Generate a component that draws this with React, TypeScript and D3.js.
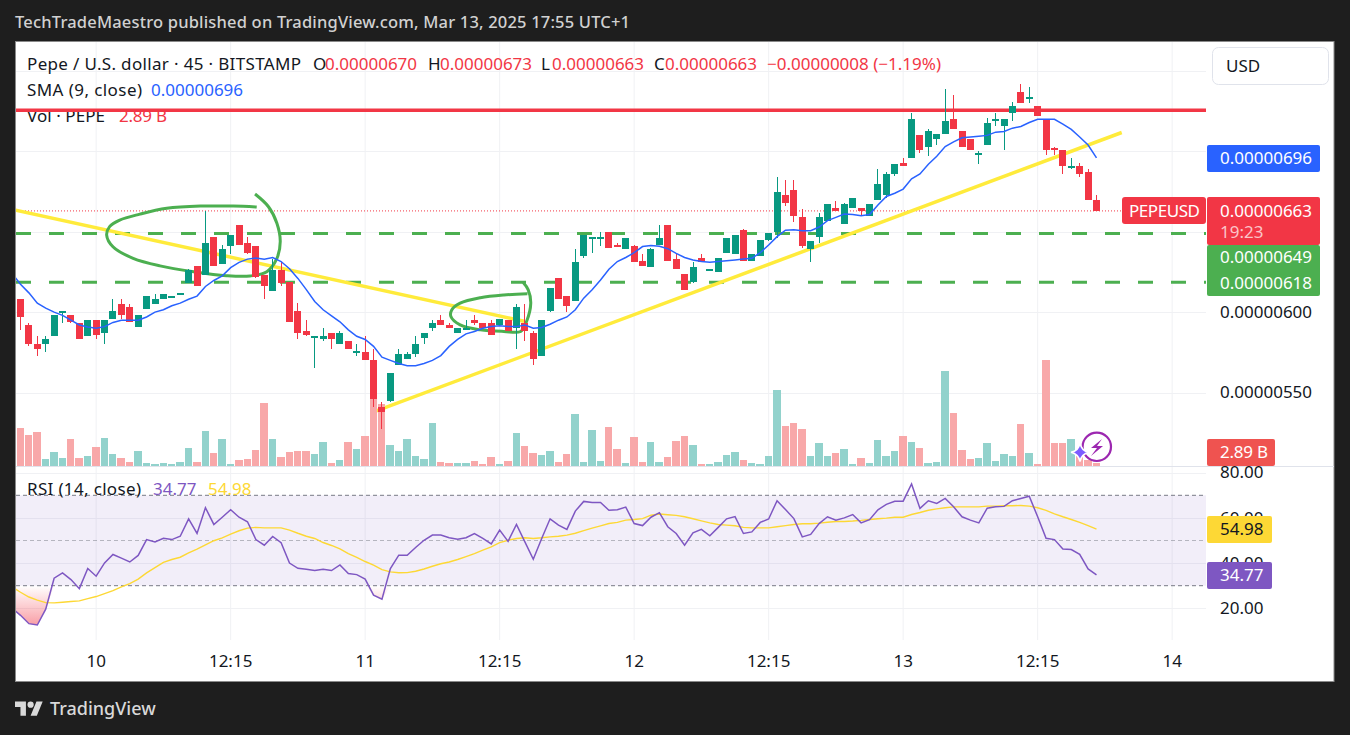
import * as React from 'react'
import * as d3 from 'd3'

// prices are in units of 1e-8 USD
const opens = [608,592,580,580,585,600,598,593,585,595,587,596,605,603,591,602,605,608,610,612,618,629,623,647,630,641,654,643,641,623,613,626,619,601,588,585,583,587,580,582,576,575,570,541,545,567,571,574,584,590,595,592,587,590,595,593,593,592,595,590,593,587,573,601,621,610,607,635,646,647,650,642,639,641,632,628,642,654,633,624,619,634,626,625,637,636,651,632,635,645,650,673,676,659,639,647,657,665,655,665,665,660,670,673,686,693,696,710,703,708,711,720,713,708,699,704,720,716,724,737,734,728,720,702,701,690,691,687,670]
const closes = [597,580,577,583,598,601,594,583,595,586,595,601,598,594,598,610,608,611,610,612,626,616,643,629,639,648,642,637,622,616,626,618,594,587,586,585,585,583,587,577,576,570,546,538,562,574,574,580,587,593,592,590,590,590,593,590,586,596,588,603,588,571,595,615,608,604,631,648,647,647,640,641,646,631,629,639,646,632,627,614,628,631,627,634,646,648,632,636,645,649,675,668,660,641,644,659,667,663,667,671,663,667,680,686,692,691,720,701,713,711,719,714,703,701,699,718,720,720,728,730,734,722,701,701,691,691,686,670,663]
const highs = [608,593,585,585,598,601,598,593,595,595,595,608,608,605,598,610,611,611,610,612,627,629,663,647,642,648,654,647,641,623,633,631,619,606,595,585,590,587,588,582,580,585,577,544,562,577,575,585,587,595,598,593,590,595,598,593,595,596,595,605,605,588,595,615,621,610,639,648,647,650,650,643,646,642,636,640,654,654,636,624,631,636,627,634,646,648,652,636,645,649,684,682,682,664,644,662,667,669,668,671,665,667,689,687,692,696,724,710,714,711,739,735,713,708,700,721,724,720,731,742,740,728,720,703,701,696,693,689,673]
const lows = [589,579,573,575,585,593,593,583,585,583,580,596,596,594,591,602,605,608,610,612,618,616,623,629,630,636,642,636,621,608,613,616,594,583,585,565,582,577,580,577,573,570,541,527,544,567,571,572,580,588,592,590,587,590,592,590,586,592,588,577,582,567,573,600,608,600,607,634,637,641,640,641,639,631,629,628,642,632,627,614,618,631,626,625,637,636,632,632,635,644,646,666,656,640,631,643,657,663,655,665,660,660,670,671,685,691,696,699,697,704,711,714,703,701,692,704,716,701,719,730,730,722,698,698,686,689,684,670,663]
// volume in billions, last value is the legend's 2.89 B
const volumes = [38,31,34,7,14,8,27,8,10,19,28,12,8,4,15,3,2,3,2,4,18,4,35,13,27,2,6,7,16,63,27,9,14,15,15,12,24,3,6,24,17,30,67,62,21,15,27,10,7,43,4,3,3,3,5,2,9,2,5,33,20,13,11,15,4,12,52,4,36,5,39,17,3,29,4,24,4,9,25,30,21,2,2,4,11,14,6,3,2,10,76,40,43,37,10,23,10,13,17,2,8,3,26,10,15,30,24,18,3,4,95,53,16,7,8,23,5,12,10,42,13,2,106,23,23,27,10,6,2.89]
const smaBefore = 624
const smaValues = [617.4,612,605.6,602.5,600,598,595,592,590.7,590,591,593.6,595,595,595,597,600,601.5,604,605.6,608,610,616,619.7,622.6,627.7,631,633,633.7,633,634,631.5,627,621,614,606.6,601.5,597.7,594,589,585,583,578.7,572,570,568,566.7,566.7,568,570,573,578.7,583,586.5,588,590,591,591.5,591,591,592,590,590.5,592.5,595,597,601.5,608.7,614,620,626.7,631.5,634,637,640.8,641.4,641,639.5,636.6,634,632.5,631.5,631,631.5,632,632.5,633,633.5,637,641.8,647,651,651.3,650.7,650.7,653,657,659,661,660.7,660,660.7,666.7,672,674,676.6,683,686,692,697,703,706,708.5,709,709.5,710,712,712.4,714.5,715.5,718,720,720,720,717,713.7,709,704,696]
const rsiBefore = 20
const rsiValues = [16.9,13.2,12.6,19.6,33.3,35.7,32.7,28.7,37.6,34.2,40.1,43.8,42.2,40.5,43.4,50.4,49.4,51,50.4,51.9,59.6,53.1,64.5,57.1,60.3,63.6,60.3,58.3,50.4,47.9,51.8,49,40,37.7,37.3,36.7,37.3,36.7,39.2,35.4,34.9,32.9,25.8,24,37.6,43.5,43.5,46.9,50.1,52.4,52.4,51.2,50.6,51.2,53.1,50.9,48.5,54.6,49.6,57.1,49.4,41.7,50.9,59.6,56.8,54.9,63,67.3,66.8,66.8,63.4,63.6,64.8,57.5,56.6,60.3,62.3,56.1,53.1,47.9,53.4,54.9,52.1,55.8,59.6,60.6,53.1,53.8,58,59.5,67.6,63.7,59.7,51.6,52.7,57.5,60.5,59,60,61.5,57.8,59.2,63.6,66,67.4,67.4,75,64.2,67.6,66.4,68.6,64.9,60.5,59,57.8,64.3,64.9,65.1,67.6,68.6,69.6,60.5,51,50.4,46.2,46,43.9,37.4,34.77]
const rsiMaBefore = 29.5
const rsiMaValues = [27.1,25,23.6,22.5,22.4,22.7,23,23.3,24.3,25.2,26.5,27.8,29.5,30.9,32.9,35.7,38,40.3,41.6,42.6,44.5,46.2,48.1,49.9,51.2,52.8,54.3,55.5,55.8,55.6,55.6,55.6,54.6,53.2,51.9,50.9,49.1,47.8,46.3,44.2,42.5,40.7,39.1,37.1,36.1,35.7,35.8,36.4,37.4,38.6,39.7,40.5,41.6,42.9,44.2,45.7,47.2,49.1,50.1,50.9,51.2,50.9,51.2,51.6,51.9,52.4,53.2,54.4,55.5,56.5,57.5,58,59,59.3,59.7,61.2,61.7,61.4,61.1,60.5,59.6,58.7,57.8,57.1,56.8,56.5,55.8,55.6,55.6,55.6,56.1,56.6,57.1,57.4,57.4,57.7,58.1,58.4,58.4,58.6,58.9,59.3,59.6,59.9,60.3,60.3,61.5,62.4,63.4,64,64.5,64.9,64.9,64.9,64.9,65.2,65.2,65.4,65.4,65.5,65.2,64.5,63.3,61.8,60.5,59.3,58,56.6,55]

const timeTickIndex = [9,25,41,57,73,89,105,121,137]
const timeTickLabels = ['10','12:15','11','12:15','12','12:15','13','12:15','14']
const priceGridTicks = [550,600,650,700,750]
const priceLabelTicks = [550,600]
const rsiTicks = [20,40,60,80]

// drawings, [bar index, price]
const resistance = 725.6
const supports = [649,618.6]
const trendDown: [number, number][] = [[-0.6,663.5],[59.9,594.3]]
const trendUp: [number, number][] = [[41.7,537.3],[131,711.8]]
const circleOne: [number, number][] = [[28.1,665.4],[25.3,666],[21.4,666],[17.4,664.6],[14.2,661],[11.8,657.3],[10.6,653.2],[10.25,648],[11,640.7],[13.4,633.5],[16.6,628.8],[20.6,625.2],[24.5,622.7],[27.3,622.5],[29.3,625.2],[30.5,633.5],[30.9,643.9],[30.5,655.3],[29.5,665.6],[27.9,673.5]]
const circleTwo: [number, number][] = [[60.3,611.4],[57.5,610.7],[54.7,609],[52.3,605.6],[51.3,601.4],[51.2,597.3],[52.3,592.1],[54.7,589],[57.5,588],[59.5,588],[60.2,594.2],[60.7,605.6],[60.4,613.9],[59.8,618.4]]

const GREEN = '#089981'
const RED = '#F23645'
const FONT = '"Noto Sans", sans-serif'
const PANE_LEFT = 16
const AXIS_LEFT = 1206

const x = d3.scaleLinear().domain([0, 128]).range([20.5, 1096.5])
const y = d3.scaleLinear().domain([550, 650]).range([392.5, 231.8])
const yVol = d3.scaleLinear().domain([0, 100]).range([466, 366])
const yRsi = d3.scaleLinear().domain([20, 80]).range([608.3, 472.7])

const col = (i: number) => Math.floor(x(i))
const withIndex = (first: number, values: number[]): [number, number][] =>
  [first, ...values].map((v, i) => [i - 1, v])

const priceLine = d3.line<[number, number]>().x(d => x(d[0])).y(d => y(d[1]))
const sketchLine = d3.line<[number, number]>().x(d => x(d[0])).y(d => y(d[1])).curve(d3.curveCatmullRom)
const rsiLine = d3.line<[number, number]>().x(d => x(d[0])).y(d => yRsi(d[1]))
const oversoldArea = d3.area<[number, number]>()
  .x(d => x(d[0]))
  .y0(yRsi(30))
  .y1(d => yRsi(Math.min(d[1], 30)))

const Txt = ({ x, y, fill = '#131722', size = 17, anchor = 'start', weight = 400, w, children }: any) => (
  <text x={x} y={y - 0.8} fill={fill} fontSize={size} textAnchor={anchor} fontWeight={weight} textLength={w} lengthAdjust={w ? 'spacing' : undefined} dominantBaseline="central" fontFamily={FONT}>{children}</text>
)

const App = () => {
  const rsiPoints = withIndex(rsiBefore, rsiValues)
  return (
    <svg width={1350} height={735} style={{ position: 'fixed', left: 0, top: 0, background: '#1e1e1e' }}>
      <defs>
        <clipPath id="main"><rect x={PANE_LEFT} y={41} width={AXIS_LEFT - PANE_LEFT} height={425} /></clipPath>
        <clipPath id="rsi"><rect x={PANE_LEFT} y={467} width={AXIS_LEFT - PANE_LEFT} height={173} /></clipPath>
        <linearGradient id="oversold" gradientUnits="userSpaceOnUse" x1={0} x2={0} y1={yRsi(30)} y2={yRsi(10)}>
          <stop offset="0" stopColor={RED} stopOpacity={0} />
          <stop offset="1" stopColor={RED} stopOpacity={0.55} />
        </linearGradient>
      </defs>

      <Txt x={15} y={22.5} fill="#d1d1d1" size={16.5} weight={500} w={615}>TechTradeMaestro published on TradingView.com, Mar 13, 2025 17:55 UTC+1</Txt>
      <rect x={15.5} y={41.5} width={1318.5} height={640} fill="#fff" stroke="#8a8a8a" />

      {/* grid */}
      {timeTickIndex.map(i => (
        <line key={i} x1={x(i)} x2={x(i)} y1={42} y2={640} stroke="#f0f1f4" />
      ))}
      {priceGridTicks.map(t => (
        <line key={t} x1={PANE_LEFT} x2={AXIS_LEFT} y1={Math.round(y(t)) + 0.5} y2={Math.round(y(t)) + 0.5} stroke="#f0f1f4" />
      ))}
      {rsiTicks.map(t => (
        <line key={t} x1={PANE_LEFT} x2={AXIS_LEFT} y1={Math.round(yRsi(t)) + 0.5} y2={Math.round(yRsi(t)) + 0.5} stroke="#f0f1f4" />
      ))}

      {/* legend, the drawings go over it */}
      <Txt x={27} y={64} w={274}>Pepe / U.S. dollar · 45 · BITSTAMP</Txt>
      <Txt x={313} y={64}>O</Txt>
      <Txt x={325} y={64} fill={RED}>0.00000670</Txt>
      <Txt x={428} y={64}>H</Txt>
      <Txt x={440} y={64} fill={RED}>0.00000673</Txt>
      <Txt x={541} y={64}>L</Txt>
      <Txt x={552} y={64} fill={RED}>0.00000663</Txt>
      <Txt x={654} y={64}>C</Txt>
      <Txt x={665} y={64} fill={RED}>0.00000663</Txt>
      <Txt x={767} y={64} fill={RED} w={174}>−0.00000008 (−1.19%)</Txt>
      <Txt x={27} y={90} w={115}>SMA (9, close)</Txt>
      <Txt x={151} y={90} fill="#2962FF">0.00000696</Txt>
      <Txt x={27} y={116} w={78}>Vol · PEPE</Txt>
      <Txt x={119} y={116} fill={RED} w={48}>2.89 B</Txt>

      <g clipPath="url(#main)">
        {/* last price */}
        <line x1={PANE_LEFT} x2={1122} y1={y(663)} y2={y(663)} stroke={RED} strokeDasharray="1 2" />
        {/* drawings */}
        <line x1={PANE_LEFT} x2={AXIS_LEFT} y1={y(resistance)} y2={y(resistance)} stroke={RED} strokeWidth={3.5} />
        {supports.map(s => (
          <line key={s} x1={PANE_LEFT} x2={AXIS_LEFT} y1={y(s)} y2={y(s)} stroke="#4CAF50" strokeWidth={3} strokeDasharray="15 18" />
        ))}
        <path d={priceLine(trendDown) ?? ''} fill="none" stroke="#FFEB3B" strokeWidth={3.5} />
        <path d={priceLine(trendUp) ?? ''} fill="none" stroke="#FFEB3B" strokeWidth={3.5} />
        <path d={sketchLine(circleOne) ?? ''} fill="none" stroke="#4CAF50" strokeWidth={3} />
        <path d={sketchLine(circleTwo) ?? ''} fill="none" stroke="#4CAF50" strokeWidth={3} />

        {/* volume */}
        {volumes.map((v, i) => (
          <rect key={i} x={col(i - 1) + 5} width={col(i) + 4 - (col(i - 1) + 5)} y={yVol(v)} height={yVol(0) - yVol(v)}
            fill={closes[i] >= opens[i] ? '#92D2CC' : '#F8A8A9'} shapeRendering="crispEdges" />
        ))}

        {/* candles */}
        {opens.map((o, i) => {
          const c = closes[i]
          const color = c >= o ? GREEN : RED
          const top = y(Math.max(o, c))
          const h = Math.max(2, Math.abs(y(o) - y(c)))
          return (
            <g key={i} fill={color} shapeRendering="crispEdges">
              <rect x={col(i)} width={1} y={y(highs[i])} height={y(lows[i]) - y(highs[i])} />
              <rect x={col(i) - 3} width={7} y={top} height={h} />
            </g>
          )
        })}

        <path d={priceLine(withIndex(smaBefore, smaValues)) ?? ''} fill="none" stroke="#2962FF" strokeWidth={1.5} />
      </g>

      {/* purple marks on the last volume bars */}
      <circle cx={1096.8} cy={446.8} r={14.2} fill="#fff" fillOpacity={0} stroke="#9C27B0" strokeWidth={2.2} />
      <path d="M1102 439 L1091 448 L1097 448 L1091 456 L1103 446 L1097 446 Z" fill="#9C27B0" />
      <path d="M1080 443 Q1081.5 451 1089 452.3 Q1081.5 454 1080 461.5 Q1078.5 454 1071 452.3 Q1078.5 451 1080 443 Z" fill="#7B5CFF" stroke="#fff" strokeWidth={1.5} />

      {/* pane separator */}
      <line x1={PANE_LEFT} x2={1334} y1={466.5} y2={466.5} stroke="#e0e3eb" />

      {/* rsi pane */}
      <g clipPath="url(#rsi)">
        <rect x={PANE_LEFT} width={AXIS_LEFT - PANE_LEFT} y={yRsi(70)} height={yRsi(30) - yRsi(70)} fill="#7E57C2" fillOpacity={0.1} />
        <line x1={PANE_LEFT} x2={AXIS_LEFT} y1={yRsi(70)} y2={yRsi(70)} stroke="#787B86" strokeDasharray="4 3" />
        <line x1={PANE_LEFT} x2={AXIS_LEFT} y1={yRsi(50)} y2={yRsi(50)} stroke="#787B86" strokeOpacity={0.5} strokeDasharray="4 3" />
        <line x1={PANE_LEFT} x2={AXIS_LEFT} y1={yRsi(30)} y2={yRsi(30)} stroke="#787B86" strokeDasharray="4 3" />
        <path d={oversoldArea(rsiPoints) ?? ''} fill="url(#oversold)" />
        <path d={rsiLine(withIndex(rsiMaBefore, rsiMaValues)) ?? ''} fill="none" stroke="#FDD835" strokeWidth={1.4} />
        <path d={rsiLine(rsiPoints) ?? ''} fill="none" stroke="#7E57C2" strokeWidth={1.5} />
      </g>
      <Txt x={27} y={489} w={114}>RSI (14, close)</Txt>
      <Txt x={153} y={489} fill="#7E57C2">34.77</Txt>
      <Txt x={208} y={489} fill="#FDD835">54.98</Txt>

      {/* time axis */}
      {timeTickIndex.map((i, k) => (
        <Txt key={i} x={x(i)} y={661} anchor="middle">{timeTickLabels[k]}</Txt>
      ))}

      {/* price axis */}
      {priceLabelTicks.map(t => (
        <Txt key={t} x={1220} y={y(t)} >{d3.format('.8f')(t * 1e-8)}</Txt>
      ))}
      {rsiTicks.map(t => (
        <Txt key={t} x={1220} y={yRsi(t)}>{d3.format('.2f')(t)}</Txt>
      ))}

      {/* currency button */}
      <rect x={1212.5} y={47.5} width={116} height={37} rx={6} fill="#fff" stroke="#e0e3eb" />
      <Txt x={1226} y={66}>USD</Txt>

      {/* axis tags */}
      <rect x={1207} y={145} width={113} height={27} rx={2} fill="#2962FF" />
      <Txt x={1220} y={158.5} fill="#fff">0.00000696</Txt>
      <rect x={1122} y={197} width={84} height={27} rx={3} fill={RED} />
      <Txt x={1129} y={211} fill="#fff" w={71}>PEPEUSD</Txt>
      <rect x={1207} y={197} width={113} height={48} rx={2} fill={RED} />
      <Txt x={1220} y={211} fill="#fff">0.00000663</Txt>
      <Txt x={1220} y={232} fill="#FBC4C8">19:23</Txt>
      <rect x={1207} y={245} width={113} height={51} rx={2} fill="#4CAF50" />
      <Txt x={1220} y={257.5} fill="#fff">0.00000649</Txt>
      <Txt x={1220} y={283} fill="#fff">0.00000618</Txt>
      <rect x={1207} y={439} width={68} height={27} rx={2} fill="#EF5350" />
      <Txt x={1220} y={452.5} fill="#fff" w={48}>2.89 B</Txt>
      <rect x={1207} y={516} width={65} height={27} rx={2} fill="#FDD835" />
      <Txt x={1220} y={529.5} fill="#131722">54.98</Txt>
      <rect x={1207} y={562} width={65} height={27} rx={2} fill="#7E57C2" />
      <Txt x={1220} y={575.5} fill="#fff">34.77</Txt>

      {/* footer logo */}
      <g transform="translate(15,698.5) scale(0.78)" fill="#d9d9d9">
        <path d="M14 22H7V11H0V4h14v18zM28 22h-8l7.5-18h8L28 22z" />
        <circle cx={20} cy={8} r={4} />
      </g>
      <Txt x={50} y={709} fill="#d9d9d9" size={18} weight={500}>TradingView</Txt>
    </svg>
  )
}

export default App
